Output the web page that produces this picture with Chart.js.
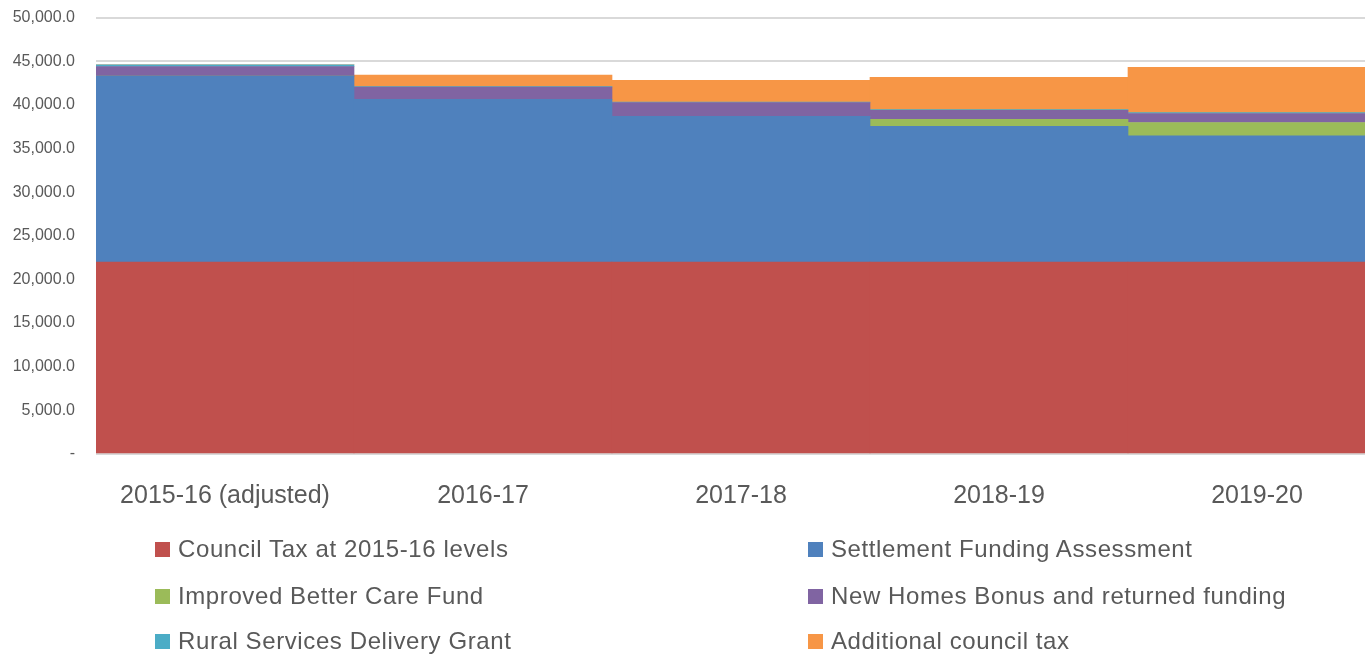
<!DOCTYPE html>
<html>
<head>
<meta charset="utf-8">
<script src="https://cdn.jsdelivr.net/npm/chart.js@4"></script>
<style>
  html, body { margin: 0; padding: 0; background: #fff; overflow: hidden; }
  #wrap { position: relative; width: 1365px; height: 659px; overflow: hidden; }
  #chart { position: absolute; left: 0; top: -13px; }
  #legend { position: absolute; left: 0; top: 0; width: 1365px; height: 659px; pointer-events: none;
            font-family: "Liberation Sans", Arial, sans-serif; font-size: 24px; letter-spacing: 0.6px; color: #595959; }
  .item { position: absolute; display: flex; align-items: center; white-space: nowrap; }
  .box { width: 15px; height: 15px; margin-right: 8px; }
</style>
</head>
<body>
<div id="wrap">
  <canvas id="chart" width="1390" height="672"></canvas>
  <div id="legend"></div>
</div>
<script>
const years = ["2015-16 (adjusted)", "2016-17", "2017-18", "2018-19", "2019-20"];

// £000s
const councilTax = [22000, 22000, 22000, 22000, 22000];
const settlement = [21300, 18650, 16700, 15550, 14450];
const betterCare = [0, 0, 0, 800, 1530];
const newHomes = [1100, 1400, 1570, 1030, 1030];
const ruralGrant = [200, 50, 50, 80, 100];
const additionalTax = [0, 1300, 2500, 3700, 5200];

const yTicks = [0, 5000, 10000, 15000, 20000, 25000, 30000, 35000, 40000, 45000, 50000];

const series = [
  { label: "Council Tax at 2015-16 levels", data: councilTax, color: "#C0504D" },
  { label: "Settlement Funding Assessment", data: settlement, color: "#4F81BD" },
  { label: "Improved Better Care Fund", data: betterCare, color: "#9BBB59" },
  { label: "New Homes Bonus and returned funding", data: newHomes, color: "#8064A2" },
  { label: "Rural Services Delivery Grant", data: ruralGrant, color: "#4BACC6" },
  { label: "Additional council tax", data: additionalTax, color: "#F79646" }
];

const ctx = document.getElementById("chart").getContext("2d");
new Chart(ctx, {
  type: "bar",
  data: {
    labels: years,
    datasets: series.map(s => ({
      label: s.label,
      data: s.data,
      backgroundColor: s.color,
      borderWidth: 0,
      barPercentage: 1,
      categoryPercentage: 1
    }))
  },
  options: {
    responsive: false,
    animation: false,
    layout: { padding: { top: 6, right: 4, left: 0, bottom: 0 } },
    plugins: { legend: { display: false }, tooltip: { enabled: false } },
    scales: {
      x: {
        stacked: true,
        grid: { display: false, drawTicks: false },
        border: { display: false },
        ticks: {
          color: "#595959",
          font: { family: "Liberation Sans", size: 25 },
          padding: 27,
          maxRotation: 0
        },
        afterFit: (axis) => { axis.height = 205; }
      },
      y: {
        stacked: true,
        min: 0,
        max: 50000,
        afterBuildTicks: (axis) => { axis.ticks = yTicks.map(v => ({ value: v })); },
        grid: { color: "#d9d9d9", lineWidth: 2, drawTicks: false },
        border: { display: false },
        ticks: {
          color: "#595959",
          font: { family: "Liberation Sans", size: 16 },
          padding: 21,
          callback: (v) => v === 0 ? "-" : v.toLocaleString("en-US", { minimumFractionDigits: 1, maximumFractionDigits: 1 })
        },
        afterFit: (axis) => { axis.width = 96; }
      }
    }
  }
});

// html legend, two columns like the picture
const legend = document.getElementById("legend");
const rowsY = [549, 596, 641];
const colsX = [155, 808];
series.forEach((s, i) => {
  const item = document.createElement("div");
  item.className = "item";
  item.style.left = colsX[i % 2] + "px";
  item.style.top = (rowsY[Math.floor(i / 2)] - 15) + "px";
  item.style.height = "30px";
  item.innerHTML = '<span class="box" style="background:' + s.color + '"></span><span>' + s.label + '</span>';
  legend.appendChild(item);
});
</script>
</body>
</html>
